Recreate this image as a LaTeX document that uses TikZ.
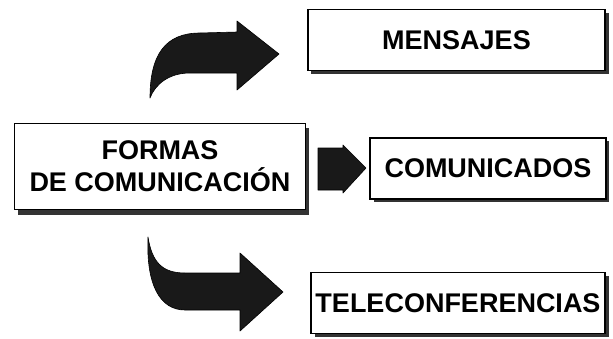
\documentclass[tikz,border=0pt]{standalone}
\usepackage{fontspec}
\setmainfont{Liberation Sans}
\begin{document}
\begin{tikzpicture}[x=1pt,y=-1pt,
  box/.style={draw=black,line width=1.8pt,fill=white,inner sep=0pt,
    font=\fontsize{27}{32}\selectfont\bfseries,align=center},
  shade/.style={fill=black!80},
  bigarrow/.style={fill=black!90,draw=black,line width=0.6pt,line join=round}]
\useasboundingbox (0,0) rectangle (613,338);
% shadows
\fill[shade] (18,128) rectangle (309,215);
\fill[shade] (311,13) rectangle (609,74);
\fill[shade] (374,141) rectangle (609,202);
\fill[shade] (315,276) rectangle (609,337);
% boxes
\node[box,minimum width=291pt,minimum height=86pt] (formas) at (160,166.5)
  {FORMAS\\DE COMUNICACIÓN};
\node[box,minimum width=297pt,minimum height=61pt] (mens) at (456.5,40) {MENSAJES};
\node[box,minimum width=236pt,minimum height=61pt] (comu) at (488,168.5) {COMUNICADOS};
\node[box,minimum width=294pt,minimum height=61pt] (tele) at (458,303) {TELECONFERENCIAS};
% arrows
\coordinate (upTail) at (150,98);
\coordinate (upTip) at (279,54);
\coordinate (loTail) at (148,237);
\coordinate (loTip) at (283,292);
\coordinate (smTip) at (366,168);
\filldraw[bigarrow] (upTail) .. controls (150,55) and (165,33) .. (200,33)
  -- (237,32) -- (237,21) -- (upTip) -- (237,90) -- (237,73) -- (190,73)
  .. controls (168,73) and (155,85) .. (upTail) -- cycle;
\filldraw[bigarrow] (loTail) .. controls (152,262) and (162,273) .. (185,273)
  -- (240,273) -- (240,253) -- (loTip) -- (240,331) -- (240,310) -- (185,310)
  .. controls (160,310) and (146,285) .. (loTail) -- cycle;
\filldraw[bigarrow] (318,148) -- (343,148) -- (343,145) -- (smTip)
  -- (343,193) -- (343,190) -- (318,190) -- cycle;
\end{tikzpicture}
\end{document}
